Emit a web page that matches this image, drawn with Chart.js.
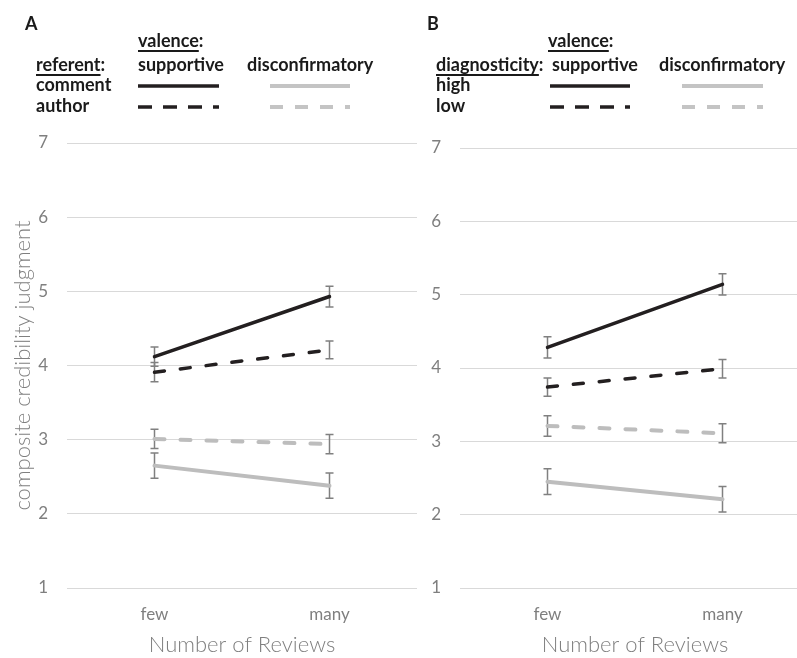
<!DOCTYPE html>
<html>
<head>
<meta charset="utf-8">
<script src="https://cdn.jsdelivr.net/npm/chart.js@4.4.1/dist/chart.umd.min.js"></script>
<style>
  html, body { margin: 0; padding: 0; background: #fff; }
  #page { position: relative; width: 797px; height: 658px; overflow: hidden; font-family: Lato, "Open Sans", sans-serif; }
  #page canvas { position: absolute; top: 0; }
  .t { position: absolute; white-space: nowrap; font-weight: 700; font-size: 18px; line-height: 18px; color: #1a1a1a; }
  .u { text-decoration: underline; text-decoration-thickness: 1.5px; text-underline-offset: 3px; }
  .panel { position: absolute; font-weight: 700; font-size: 18px; line-height: 18px; color: #1a1a1a; }
  #keys { position: absolute; left: 0; top: 0; }
</style>
</head>
<body>
<div id="page">
  <canvas id="chartA" width="417" height="658" style="left:0;width:417px;height:658px"></canvas>
  <canvas id="chartB" width="393" height="658" style="left:417px;width:393px;height:658px"></canvas>

  <!-- panel A key -->
  <div class="panel" style="left:25px;top:14px">A</div>
  <div class="t" style="left:138px;top:31px"><span class="u">valence</span>:</div>
  <div class="t" style="left:36px;top:55px"><span class="u">referent</span>:</div>
  <div class="t" style="left:138px;top:55px">supportive</div>
  <div class="t" style="left:247px;top:55px">disconfirmatory</div>
  <div class="t" style="left:36px;top:75px">comment</div>
  <div class="t" style="left:36px;top:96px">author</div>

  <!-- panel B key -->
  <div class="panel" style="left:427px;top:14px">B</div>
  <div class="t" style="left:548px;top:31px"><span class="u">valence</span>:</div>
  <div class="t" style="left:436px;top:55px"><span class="u">diagnosticity</span>:</div>
  <div class="t" style="left:552px;top:55px">supportive</div>
  <div class="t" style="left:659px;top:55px">disconfirmatory</div>
  <div class="t" style="left:436px;top:75px">high</div>
  <div class="t" style="left:436px;top:96px">low</div>

  <svg id="keys" width="797" height="130">
    <g fill="none">
      <line x1="138" y1="86" x2="219" y2="86" stroke="#231f20" stroke-width="3.5"/>
      <line x1="138" y1="107" x2="219" y2="107" stroke="#231f20" stroke-width="3.5" stroke-dasharray="14 11"/>
      <line x1="270" y1="86" x2="350" y2="86" stroke="#c4c4c4" stroke-width="4"/>
      <line x1="270" y1="107" x2="350" y2="107" stroke="#c4c4c4" stroke-width="4" stroke-dasharray="13 12"/>

      <line x1="550" y1="86" x2="630" y2="86" stroke="#231f20" stroke-width="3.5"/>
      <line x1="550" y1="107" x2="630" y2="107" stroke="#231f20" stroke-width="3.5" stroke-dasharray="14 11"/>
      <line x1="682" y1="86" x2="763" y2="86" stroke="#c4c4c4" stroke-width="4"/>
      <line x1="682" y1="107" x2="763" y2="107" stroke="#c4c4c4" stroke-width="4" stroke-dasharray="13 12"/>
    </g>
  </svg>
</div>

<script>
// Number of reviews shown to participants
const categories = ['few', 'many'];

// Panel A: referent (comment / author) x valence
const commentSupportive      = [4.12, 4.93];
const commentSupportiveErr   = [0.13, 0.14];
const authorSupportive       = [3.91, 4.21];
const authorSupportiveErr    = [0.13, 0.12];
const commentDisconfirm      = [2.65, 2.38];
const commentDisconfirmErr   = [0.17, 0.17];
const authorDisconfirm       = [3.01, 2.94];
const authorDisconfirmErr    = [0.13, 0.13];

// Panel B: diagnosticity (high / low) x valence
const highSupportive         = [4.28, 5.14];
const highSupportiveErr      = [0.145, 0.145];
const lowSupportive          = [3.74, 3.99];
const lowSupportiveErr       = [0.125, 0.125];
const highDisconfirm         = [2.45, 2.21];
const highDisconfirmErr      = [0.175, 0.175];
const lowDisconfirm          = [3.21, 3.11];
const lowDisconfirmErr       = [0.14, 0.13];

const yTicks = [1, 2, 3, 4, 5, 6, 7];

const BLACK = '#231f20';
const GRAY = '#bdbdbd';
const AXIS_TEXT = '#7f7f7f';

Chart.defaults.font.family = 'Lato, "Open Sans", sans-serif';

// Vertical whiskers with end caps, drawn under the lines
const errorBars = {
  id: 'errorBars',
  beforeDatasetsDraw(chart, args, opts) {
    const { ctx, scales: { x, y } } = chart;
    ctx.save();
    ctx.strokeStyle = '#808080';
    ctx.lineWidth = 1.5;
    chart.data.datasets.forEach((ds, di) => {
      const errs = opts.errors[di];
      ds.data.forEach((v, i) => {
        const px = x.getPixelForValue(i);
        const hi = y.getPixelForValue(v + errs[i]);
        const lo = y.getPixelForValue(v - errs[i]);
        ctx.beginPath();
        ctx.moveTo(px, hi); ctx.lineTo(px, lo);
        ctx.moveTo(px - 4, hi); ctx.lineTo(px + 4, hi);
        ctx.moveTo(px - 4, lo); ctx.lineTo(px + 4, lo);
        ctx.stroke();
      });
    });
    ctx.restore();
  }
};

function series(data, color, dashed) {
  return {
    data: data,
    borderColor: color,
    backgroundColor: color,
    borderWidth: color === BLACK ? 3.5 : 4,
    borderDash: dashed ? [10, 16] : [],
    borderCapStyle: 'round',
    pointRadius: 0,
    pointHoverRadius: 0,
    tension: 0,
    fill: false
  };
}

function buildPanel(id, sets, errs, topPad, yAxisWidth, showTitle) {
  return new Chart(document.getElementById(id), {
    type: 'line',
    data: { labels: categories, datasets: sets },
    options: {
      responsive: false,
      animation: false,
      events: [],
      layout: { padding: { top: topPad, left: 0, right: 0, bottom: 0 } },
      plugins: {
        legend: { display: false },
        tooltip: { enabled: false },
        errorBars: { errors: errs }
      },
      scales: {
        x: {
          type: 'category',
          offset: true,
          grid: { display: false, drawTicks: false },
          border: { display: false },
          ticks: { color: AXIS_TEXT, font: { size: 17, weight: 400 }, padding: 16 },
          title: {
            display: true,
            text: 'Number of Reviews',
            color: AXIS_TEXT,
            font: { size: 22, weight: 300 },
            padding: { top: 0, bottom: 0 }
          },
          afterFit(scale) { scale.height = 70; }
        },
        y: {
          min: 1,
          max: 7,
          afterBuildTicks(scale) { scale.ticks = yTicks.map(v => ({ value: v })); },
          grid: { color: '#d9d9d9', lineWidth: 1, drawTicks: false },
          border: { display: false },
          ticks: { color: AXIS_TEXT, font: { size: 17, weight: 400 }, padding: 19 },
          title: {
            display: showTitle,
            text: 'composite credibility judgment',
            color: AXIS_TEXT,
            font: { size: 22, weight: 300 },
            padding: { top: 10, bottom: 0 }
          },
          afterFit(scale) { scale.width = yAxisWidth; }
        }
      }
    },
    plugins: [errorBars]
  });
}

buildPanel('chartA', [
  series(commentSupportive, BLACK, false),
  series(authorSupportive, BLACK, true),
  series(commentDisconfirm, GRAY, false),
  series(authorDisconfirm, GRAY, true)
], [commentSupportiveErr, authorSupportiveErr, commentDisconfirmErr, authorDisconfirmErr], 143, 67, true);

buildPanel('chartB', [
  series(highSupportive, BLACK, false),
  series(lowSupportive, BLACK, true),
  series(highDisconfirm, GRAY, false),
  series(lowDisconfirm, GRAY, true)
], [highSupportiveErr, lowSupportiveErr, highDisconfirmErr, lowDisconfirmErr], 148, 43, false);
</script>
</body>
</html>
